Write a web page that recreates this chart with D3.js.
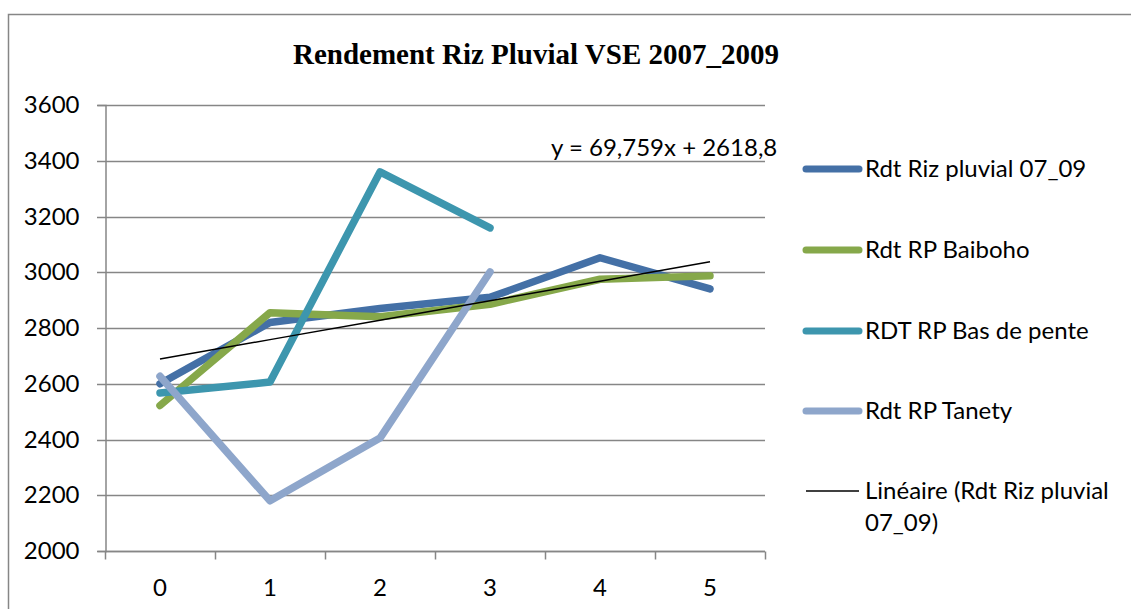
<!DOCTYPE html>
<html>
<head>
	<script src="https://cdn.jsdelivr.net/npm/d3@7"></script>
	<style>
		html, body {
			padding: 0;
			margin: 0;
			background: white;
		}
		text {
			font-family: Lato, "Liberation Sans", sans-serif;
		}
	</style>
</head>
<body>
	<div id="chart"></div>
	<script>
		var categories = [0, 1, 2, 3, 4, 5];
		var yTicks = [2000, 2200, 2400, 2600, 2800, 3000, 3200, 3400, 3600];

		var rizPluvial = [2600, 2820, 2870, 2910, 3052, 2940];
		var baiboho = [2522, 2855, 2840, 2885, 2975, 2987];
		var basDePente = [2567, 2606, 3360, 3159];
		var tanety = [2627, 2180, 2405, 3001];

		// trend line from the equation shown (x counted from 1)
		var trendSlope = 69.759, trendIntercept = 2618.8;

		var series = [
			{name: "Rdt Riz pluvial 07_09", values: rizPluvial, color: "#4470a6"},
			{name: "Rdt RP Baiboho", values: baiboho, color: "#86a84a"},
			{name: "RDT RP Bas de pente", values: basDePente, color: "#3d96ae"},
			{name: "Rdt RP Tanety", values: tanety, color: "#8ea6cb"}
		];

		var width = 1131, height = 609;
		var svg = d3.select("#chart").append("svg")
			.attr("width", width)
			.attr("height", height);

		// outer chart border
		svg.append("rect")
			.attr("x", 8.5).attr("y", 14.5)
			.attr("width", 1300).attr("height", 700)
			.attr("fill", "none").attr("stroke", "#868686").attr("stroke-width", 1.5);

		var plotLeft = 105, plotRight = 765, plotTop = 105, plotBottom = 551;
		var fs = 24;

		var x = d3.scaleBand().domain(categories).range([plotLeft, plotRight]);
		var y = d3.scaleLinear().domain([2000, 3600]).range([plotBottom, plotTop]);
		var cx = function(i) { return x(categories[i]) + x.bandwidth() / 2; };

		// gridlines
		svg.append("g").selectAll("line")
			.data(yTicks).enter().append("line")
			.attr("x1", plotLeft - 8).attr("x2", plotRight)
			.attr("y1", function(d) { return Math.round(y(d)) + 0.5; })
			.attr("y2", function(d) { return Math.round(y(d)) + 0.5; })
			.attr("stroke", "#868686").attr("stroke-width", 1.5);

		// y axis
		var yAxis = svg.append("g")
			.attr("transform", "translate(" + (plotLeft + 0.5) + ",0)")
			.call(d3.axisLeft(y).tickValues(yTicks).tickFormat(d3.format("d"))
				.tickSize(8).tickPadding(18));
		yAxis.select(".domain").attr("stroke", "#868686").attr("stroke-width", 1.5);
		yAxis.selectAll(".tick line").remove();
		yAxis.selectAll("text").attr("font-size", fs).attr("fill", "#000")
			.style("font-family", "Lato, sans-serif");

		// x axis
		var xAxis = svg.append("g")
			.attr("transform", "translate(0," + (plotBottom + 0.5) + ")");
		xAxis.append("line")
			.attr("x1", plotLeft).attr("x2", plotRight)
			.attr("stroke", "#868686").attr("stroke-width", 1.5);
		xAxis.selectAll(".xt")
			.data(categories.concat([null])).enter().append("line")
			.attr("class", "xt")
			.attr("x1", function(d, i) { return plotLeft + i * x.bandwidth() + 0.5; })
			.attr("x2", function(d, i) { return plotLeft + i * x.bandwidth() + 0.5; })
			.attr("y1", 0).attr("y2", 8)
			.attr("stroke", "#868686").attr("stroke-width", 1.5);
		xAxis.selectAll("text")
			.data(categories).enter().append("text")
			.attr("x", function(d, i) { return cx(i); })
			.attr("y", 44)
			.attr("text-anchor", "middle")
			.attr("font-size", fs)
			.text(function(d) { return d; });

		// series lines
		var line = d3.line()
			.x(function(d, i) { return cx(i); })
			.y(function(d) { return y(d); });

		svg.append("g").selectAll("path")
			.data(series).enter().append("path")
			.attr("d", function(s) { return line(s.values); })
			.attr("fill", "none")
			.attr("stroke", function(s) { return s.color; })
			.attr("stroke-width", 7.5)
			.attr("stroke-linejoin", "round")
			.attr("stroke-linecap", "round");

		// linear trend
		var trend = categories.map(function(c, i) { return trendIntercept + trendSlope * (i + 1); });
		svg.append("path")
			.attr("d", line(trend))
			.attr("fill", "none")
			.attr("stroke", "#000")
			.attr("stroke-width", 1.5);

		svg.append("text")
			.attr("x", 551).attr("y", 156)
			.attr("font-size", fs)
			.text("y = 69,759x + 2618,8");

		// title
		svg.append("text")
			.attr("x", 536).attr("y", 64)
			.attr("text-anchor", "middle")
			.attr("font-size", 29)
			.attr("font-weight", "bold")
			.style("font-family", "'Liberation Serif', 'DejaVu Serif', serif")
			.text("Rendement Riz Pluvial VSE 2007_2009");

		// legend
		var legendY = [169, 250, 331, 411];
		var legend = svg.append("g");
		series.forEach(function(s, i) {
			legend.append("line")
				.attr("x1", 806).attr("x2", 859)
				.attr("y1", legendY[i]).attr("y2", legendY[i])
				.attr("stroke", s.color).attr("stroke-width", 7)
				.attr("stroke-linecap", "round");
			legend.append("text")
				.attr("x", 865).attr("y", legendY[i] + 8)
				.attr("font-size", fs)
				.text(s.name);
		});
		legend.append("line")
			.attr("x1", 806).attr("x2", 859)
			.attr("y1", 491).attr("y2", 491)
			.attr("stroke", "#000").attr("stroke-width", 1.5);
		legend.append("text")
			.attr("x", 865).attr("y", 499)
			.attr("font-size", fs)
			.text("Linéaire (Rdt Riz pluvial");
		legend.append("text")
			.attr("x", 865).attr("y", 531)
			.attr("font-size", fs)
			.text("07_09)");
	</script>
</body>
</html>
